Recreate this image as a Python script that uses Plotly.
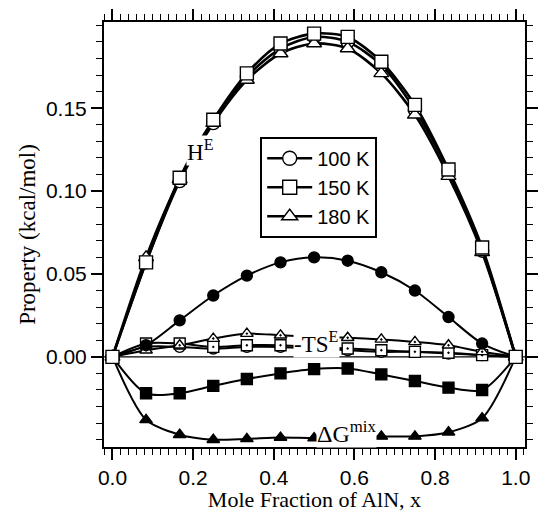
import plotly.graph_objects as go

# Mole fraction of AlN at the computed compositions (twelfths)
x = [0.0, 0.0833, 0.1667, 0.25, 0.3333, 0.4167, 0.5, 0.5833, 0.6667, 0.75, 0.8333, 0.9167, 1.0]

# Excess enthalpy H^E (kcal/mol)
he_100 = [0.0, 0.057, 0.106, 0.141, 0.169, 0.186, 0.193, 0.190, 0.176, 0.149, 0.112, 0.064, 0.0]
he_150 = [0.0, 0.057, 0.108, 0.143, 0.171, 0.189, 0.195, 0.193, 0.178, 0.152, 0.113, 0.066, 0.0]
he_180 = [0.0, 0.060, 0.107, 0.141, 0.167, 0.183, 0.189, 0.186, 0.171, 0.146, 0.109, 0.063, 0.0]

# Excess entropy term -TS^E (kcal/mol)
ts_100 = [0.0, 0.006, 0.006, 0.005, 0.006, 0.006, 0.005, 0.004, 0.003, 0.003, 0.002, 0.001, 0.0]
ts_150 = [0.0, 0.008, 0.008, 0.006, 0.007, 0.007, 0.006, 0.005, 0.004, 0.003, 0.0025, 0.001, 0.0]
ts_180 = [0.0, 0.004, 0.007, 0.011, 0.014, 0.013, 0.012, 0.0115, 0.0105, 0.009, 0.007, 0.003, 0.0]

# Free energy of mixing ΔG^mix (kcal/mol)
gm_100 = [0.0, 0.007, 0.022, 0.037, 0.049, 0.057, 0.060, 0.058, 0.051, 0.040, 0.024, 0.008, 0.0]
gm_150 = [0.0, -0.022, -0.022, -0.0175, -0.0134, -0.010, -0.0074, -0.007, -0.0106, -0.0146, -0.0186, -0.020, 0.0]
gm_180 = [0.0, -0.038, -0.047, -0.050, -0.0495, -0.0487, -0.049, -0.0485, -0.048, -0.048, -0.0455, -0.037, 0.0]

temps = ["100 K", "150 K", "180 K"]
symbols = ["circle", "square", "triangle-up"]

x_ticks = [0.0, 0.2, 0.4, 0.6, 0.8, 1.0]
y_ticks = [0.0, 0.05, 0.10, 0.15]

BLACK = "#000000"
fig = go.Figure()

groups = [
    (ts_100, ts_150, ts_180, "-dot", "white", 2.0, 11),
    (gm_100, gm_150, gm_180, "", BLACK, 2.0, 11),
    (he_100, he_180, he_150, "", "white", 2.6, 13),
]
order_sym = {
    0: ["circle", "square", "triangle-up"],
    1: ["circle", "square", "triangle-up"],
    2: ["circle", "triangle-up", "square"],
}

# lines first, markers on top
for gi, (a, b, c, suffix, fill, lw, ms) in enumerate(groups):
    for ys in (a, b, c):
        fig.add_trace(go.Scatter(x=x, y=ys, mode="lines",
                                 line=dict(color=BLACK, width=lw, shape="spline", smoothing=0.8),
                                 showlegend=False, hoverinfo="skip"))
for gi, (a, b, c, suffix, fill, lw, ms) in enumerate(groups):
    for ys, sym in zip((a, b, c), order_sym[gi]):
        fig.add_trace(go.Scatter(x=x, y=ys, mode="markers",
                                 marker=dict(symbol=sym + suffix, size=ms, color=fill,
                                             line=dict(color=BLACK, width=1.4)),
                                 showlegend=False, hoverinfo="skip"))

# legend entries
for name, sym in zip(temps, symbols):
    fig.add_trace(go.Scatter(x=[None], y=[None], mode="lines+markers", name=name,
                             line=dict(color=BLACK, width=2.6),
                             marker=dict(symbol=sym, size=14, color="white",
                                         line=dict(color=BLACK, width=1.4))))

# zero reference line across the full frame
fig.add_shape(type="line", xref="paper", yref="y", x0=0, x1=1, y0=0, y1=0,
              line=dict(color=BLACK, width=1.2), layer="below")

serif = "Liberation Serif"
sans = "Liberation Sans"

fig.add_annotation(x=0.219, y=0.1245, text="H<sup>E</sup>", showarrow=False,
                   font=dict(family=serif, size=23, color=BLACK), bgcolor="white", borderpad=0)
fig.add_annotation(x=0.505, y=0.0085, text="-TS<sup>E</sup>", showarrow=False,
                   font=dict(family=serif, size=23, color=BLACK), bgcolor="white", borderpad=0)
fig.add_annotation(x=0.58, y=-0.0455, text="ΔG<sup>mix</sup>", showarrow=False,
                   font=dict(family=serif, size=24, color=BLACK), bgcolor="white", borderpad=0)

axis_common = dict(showline=True, linecolor=BLACK, linewidth=2, mirror="allticks",
                   ticks="outside", ticklen=11, tickwidth=1.5, tickcolor=BLACK,
                   showgrid=False, zeroline=False,
                   tickfont=dict(family=sans, size=21, color=BLACK))

fig.update_xaxes(**axis_common, range=[-0.021, 1.023], tickmode="array", tickvals=x_ticks,
                 ticktext=[f"{v:.1f}" for v in x_ticks],
                 minor=dict(ticks="outside", ticklen=6, tickwidth=1.2, tickcolor=BLACK,
                            tick0=0, dtick=0.02, showgrid=False),
                 title=dict(text="Mole Fraction of AlN, x", font=dict(family=serif, size=22, color=BLACK),
                            standoff=2))
fig.update_yaxes(**axis_common, range=[-0.0544, 0.202], tickmode="array", tickvals=y_ticks,
                 ticktext=[f"{v:.2f}" for v in y_ticks],
                 minor=dict(ticks="outside", ticklen=6, tickwidth=1.2, tickcolor=BLACK,
                            tick0=0, dtick=0.01, showgrid=False),
                 title=dict(text="Property (kcal/mol)", font=dict(family=serif, size=23, color=BLACK),
                            standoff=4))

fig.update_layout(
    width=543, height=512,
    margin=dict(l=104, r=5, t=22, b=63),
    paper_bgcolor="white", plot_bgcolor="white",
    legend=dict(x=0.371, y=0.73, xanchor="left", yanchor="top",
                bordercolor=BLACK, borderwidth=2, bgcolor="white",
                font=dict(family=sans, size=20, color=BLACK),
                itemwidth=45, tracegroupgap=0),
    showlegend=True,
)

fig.write_html("out.html")
